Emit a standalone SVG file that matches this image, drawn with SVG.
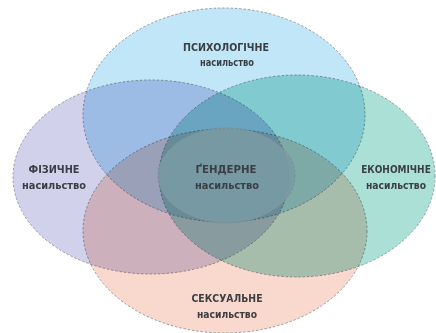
<svg xmlns="http://www.w3.org/2000/svg" width="436" height="333" viewBox="0 0 436 333">
<style>
.e{mix-blend-mode:multiply;stroke:#7f858b;stroke-width:0.8;stroke-dasharray:2.5 1.8}
.t{font-family:"DejaVu Sans Condensed","DejaVu Sans",sans-serif;font-weight:bold;fill:#3b3f44;text-anchor:middle}
.h{font-size:11px}
.s{font-size:10px}
</style>
<rect width="436" height="333" fill="#ffffff"/>
<g id="sexual"><ellipse class="e" cx="225" cy="231" rx="142" ry="102" fill="#f9d8cd"/></g>
<g id="physical"><ellipse class="e" cx="151" cy="177" rx="138" ry="97" fill="#d1d1ec"/></g>
<g id="economic"><ellipse class="e" cx="297" cy="176" rx="138" ry="101" fill="#aae0d6"/></g>
<g id="psychological"><ellipse class="e" cx="224" cy="115" rx="141" ry="107" fill="#c0e6f8"/></g>
<g id="gender"><ellipse cx="226.5" cy="175.5" rx="68.5" ry="47.5" fill="#7a9ba4" fill-opacity="0.88" stroke="#7f858b" stroke-width="0.8" stroke-dasharray="2.5 1.8"/></g>
<g id="labels">
<text class="t h" x="226" y="51" textLength="86" lengthAdjust="spacingAndGlyphs">ПСИХОЛОГІЧНЕ</text>
<text class="t s" x="227" y="66" textLength="54" lengthAdjust="spacingAndGlyphs">насильство</text>
<text class="t h" x="54" y="173" textLength="51" lengthAdjust="spacingAndGlyphs">ФІЗИЧНЕ</text>
<text class="t s" x="54" y="189" textLength="64" lengthAdjust="spacingAndGlyphs">насильство</text>
<text class="t h" x="226" y="173" textLength="61" lengthAdjust="spacingAndGlyphs">ҐЕНДЕРНЕ</text>
<text class="t s" x="227" y="189" textLength="64" lengthAdjust="spacingAndGlyphs">насильство</text>
<text class="t" x="396" y="173" font-size="10">ЕКОНОМІЧНЕ</text>
<text class="t s" x="396" y="189" textLength="60" lengthAdjust="spacingAndGlyphs">насильство</text>
<text class="t h" x="227" y="302" textLength="71" lengthAdjust="spacingAndGlyphs">СЕКСУАЛЬНЕ</text>
<text class="t s" x="227" y="318" textLength="60" lengthAdjust="spacingAndGlyphs">насильство</text>
</g>
</svg>
